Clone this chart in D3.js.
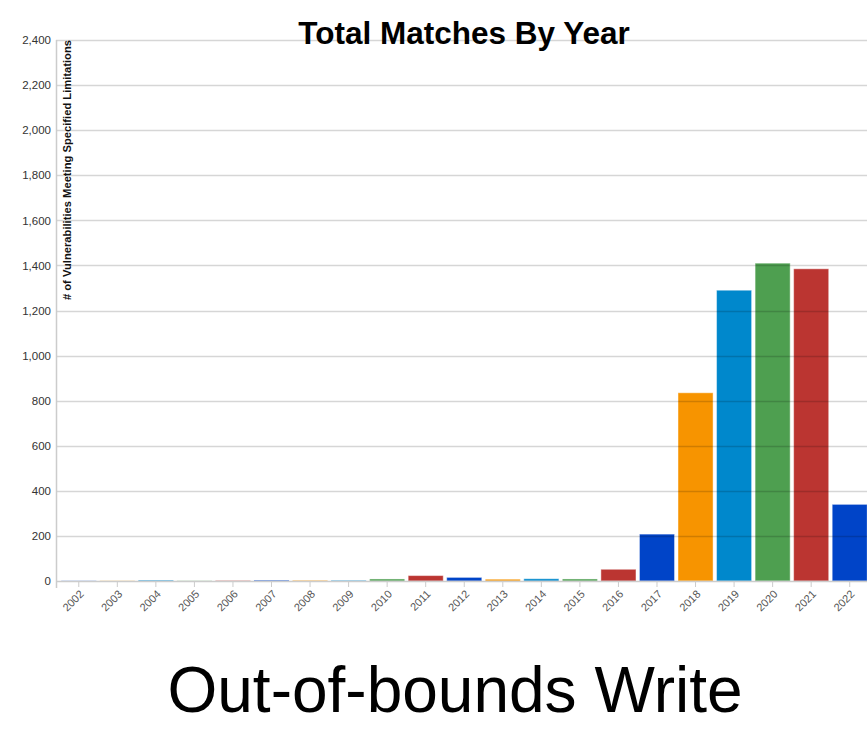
<!DOCTYPE html>
<html>
<head>
<meta charset="utf-8">
<script src="https://cdn.jsdelivr.net/npm/d3@7"></script>
<style>
  html, body { margin: 0; padding: 0; background: #fff; }
  svg { display: block; font-family: Arial, "Liberation Sans", sans-serif; }
</style>
</head>
<body>
<svg id="chart" width="867" height="738"></svg>
<script>
const years = ["2002","2003","2004","2005","2006","2007","2008","2009","2010","2011","2012","2013","2014","2015","2016","2017","2018","2019","2020","2021","2022"];
const matches = [1, 1, 4, 1, 2, 4, 3, 3, 9, 24, 16, 8, 10, 9, 52, 208, 835, 1290, 1410, 1385, 340];
const palette = ["#0044c8", "#f79400", "#0088cc", "#4e9f50", "#bb3531"];
const yTicks = [0, 200, 400, 600, 800, 1000, 1200, 1400, 1600, 1800, 2000, 2200, 2400];
const chartTitle = "Total Matches By Year";
const yTitle = "# of Vulnerabilities Meeting Specified Limitations";
const caption = "Out-of-bounds Write";

const svg = d3.select("#chart");
const x = d3.scaleBand().domain(years).range([59.5, 869]).paddingInner(0.09).paddingOuter(0.045);
const y = d3.scaleLinear().domain([0, 2400]).range([581, 40]);
const axisX = 56;

// bars
svg.append("g").selectAll("rect").data(years).join("rect")
  .attr("x", d => x(d))
  .attr("width", x.bandwidth())
  .attr("y", (d, i) => y(matches[i]))
  .attr("height", (d, i) => y(0) - y(matches[i]))
  .attr("fill", (d, i) => palette[i % palette.length])
  .attr("stroke", "#ffffff").attr("stroke-opacity", 0.45).attr("stroke-width", 1);

// gridlines drawn over the bars
svg.append("g").selectAll("line").data(yTicks.filter(t => t > 0)).join("line")
  .attr("x1", axisX).attr("x2", 867)
  .attr("y1", d => Math.round(y(d)) + 0.5).attr("y2", d => Math.round(y(d)) + 0.5)
  .attr("stroke", "#000").attr("stroke-opacity", 0.16).attr("stroke-width", 1.5);

// y axis
const yAxis = d3.axisLeft(y).tickValues(yTicks).tickFormat(d3.format(",")).tickSize(0).tickPadding(5);
const gy = svg.append("g").attr("transform", `translate(${axisX},0)`).call(yAxis);
gy.select(".domain").remove();
gy.selectAll("text").attr("fill", "#333").attr("font-size", 11.5);
svg.append("line").attr("x1", axisX + 0.5).attr("x2", axisX + 0.5).attr("y1", 40).attr("y2", 588)
  .attr("stroke", "#ccc").attr("stroke-width", 1.5);

// x axis
const xAxis = d3.axisBottom(x).tickSize(6).tickSizeOuter(0);
const gx = svg.append("g").attr("transform", "translate(0,581)").call(xAxis);
gx.select(".domain").attr("stroke", "#ccc").attr("stroke-width", 1.5).attr("d", `M${axisX},0.5H867`);
gx.selectAll(".tick line").attr("stroke", "#ccc").attr("stroke-width", 1);
gx.selectAll("text").attr("fill", "#555").attr("font-size", 11)
  .attr("x", 0).attr("y", 0).attr("dy", "0.35em")
  .attr("text-anchor", "end")
  .attr("transform", "translate(3,11) rotate(-45)");

// title
svg.append("text").attr("x", 464).attr("y", 44).attr("text-anchor", "middle")
  .attr("font-size", 31.5).attr("font-weight", "bold").attr("fill", "#000").text(chartTitle);

// y title
svg.append("text").attr("transform", "translate(71,40) rotate(-90)")
  .attr("text-anchor", "end").attr("font-size", 11.2).attr("font-weight", "bold").attr("fill", "#111")
  .text(yTitle);

// caption
svg.append("text").attr("x", 455).attr("y", 712).attr("text-anchor", "middle")
  .attr("font-size", 64).attr("fill", "#000").text(caption);
</script>
</body>
</html>
